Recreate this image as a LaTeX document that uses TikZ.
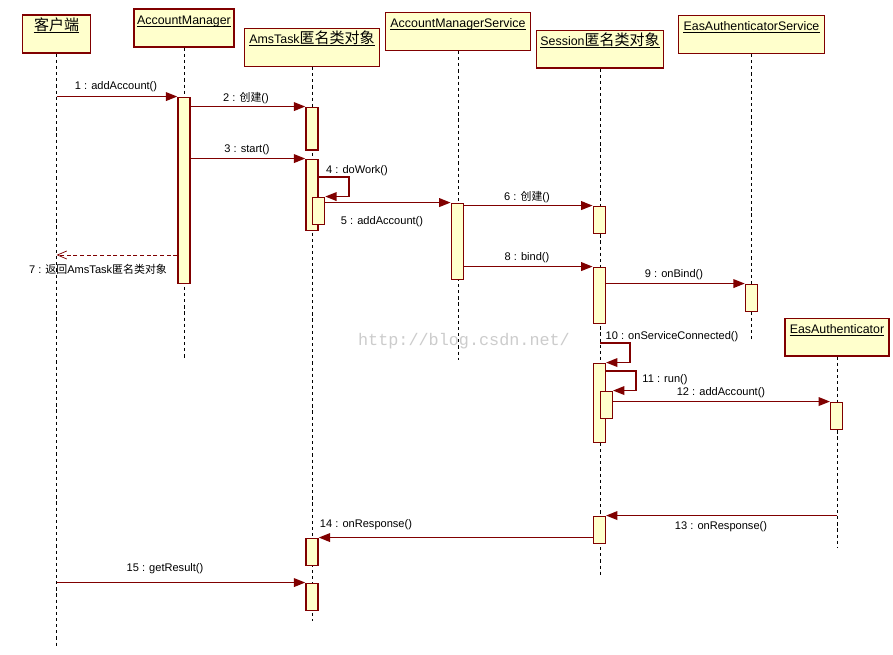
\documentclass[tikz,border=0pt]{standalone}
\usepackage{fontspec}
\setmainfont{Liberation Sans}
\newfontfamily\cjkfont{Noto Sans CJK SC}
\newfontfamily\wmfont{Liberation Mono}
\usetikzlibrary{arrows.meta}
\definecolor{umlred}{RGB}{128,0,0}
\definecolor{umlfill}{RGB}{255,255,204}
\newcommand\cjkT{\cjkfont\fontsize{11.25}{13}\selectfont}
\newcommand\cjkL{\cjkfont\fontsize{8.2}{10}\selectfont}
\newcommand\objbox[5]{\node[obj, minimum width={#5*0.75pt}, minimum height={(#4-#3)*0.75pt}] (#1) at (#2,{(#3+#4)/2}) {};}
\newcommand\actbar[4]{\node[act, minimum height={(#4-#3)*0.75pt}] (#1) at (#2,{(#3+#4)/2}) {};}
\newcommand\objtitle[3]{\node[ttl, anchor=base] (#1) at ([yshift=-12pt]#2.north) {#3};
  \draw[uline] ([yshift=-1.4pt]#1.base west) -- ([yshift=-1.4pt]#1.base east);}
\begin{document}
\begin{tikzpicture}[x=0.75pt,y=-0.75pt,
  obj/.style={draw=umlred, fill=umlfill, line width=1.1pt, inner sep=0pt},
  act/.style={draw=umlred, fill=umlfill, line width=1.1pt, inner sep=0pt, minimum width=9pt},
  ttl/.style={font=\fontsize{9.3}{11}\selectfont, inner sep=0pt},
  uline/.style={black, line width=0.6pt},
  lbl/.style={font=\fontsize{8.3}{10}\selectfont, inner sep=0pt},
  life/.style={black, dash pattern=on 2.4pt off 2.2pt, line width=0.6pt},
  msg/.style={umlred, line width=1.0pt, -{Triangle[length=8.5pt,width=6.5pt]}},
  ret/.style={umlred, line width=0.55pt, dash pattern=on 3pt off 2pt, -{Straight Barb[length=7pt,width=6pt]}}]
\useasboundingbox (0,0) rectangle (893,655);
\fill[white] (0,0) rectangle (893,655);

% watermark
\node[font=\wmfont\fontsize{12.6}{14}\selectfont, text=black!20, inner sep=0pt] (wm) at (464,341) {http://blog.csdn.net/};

% object boxes
\objbox{o1}{56.5}{15}{53}{68}
\objbox{o2}{184}{9}{47}{100}
\objbox{o3}{312}{28.5}{66.3}{135}
\objbox{o4}{458}{12.3}{50.3}{145}
\objbox{o5}{600}{30.7}{68}{127}
\objbox{o6}{751.5}{15.7}{53.3}{146}
\objbox{o7}{837}{318.3}{356}{104}

\objtitle{t1}{o1}{\cjkT 客户端}
\objtitle{t2}{o2}{AccountManager}
\objtitle{t3}{o3}{AmsTask{\cjkT 匿名类对象}}
\objtitle{t4}{o4}{AccountManagerService}
\objtitle{t5}{o5}{Session{\cjkT 匿名类对象}}
\objtitle{t6}{o6}{EasAuthenticatorService}
\objtitle{t7}{o7}{EasAuthenticator}

% lifeline ends
\coordinate (e1) at (56.5,646);
\coordinate (e2) at (184,358);
\coordinate (e3) at (312,621);
\coordinate (e4) at (458,360);
\coordinate (e5) at (600,577);
\coordinate (e6) at (751.5,340);
\coordinate (e7) at (837,547);
\foreach \i in {1,...,7}{\draw[life] (o\i.south) -- (o\i.south |- e\i);}

% activation bars
\actbar{b1}{184}{97.3}{283.3}
\actbar{b2}{312}{107.3}{150}
\actbar{b3}{312}{159.3}{230.3}
\actbar{b4}{318.5}{197.3}{224.3}
\actbar{b5}{457.3}{203.3}{279.3}
\actbar{b6}{599.3}{206.3}{233.3}
\actbar{b7}{599.3}{267.3}{323.3}
\actbar{b8}{751.5}{284.3}{311.3}
\actbar{b9}{599.3}{363.3}{442.3}
\actbar{b10}{606.3}{391.3}{418.3}
\actbar{b11}{836.7}{402.3}{429.3}
\actbar{b12}{599.3}{516.3}{543.3}
\actbar{b13}{312}{538.3}{565.3}
\actbar{b14}{312}{583.3}{610.3}

% messages
\draw[msg] (o1.south |- b1.north) -- (b1.north west);
\node[lbl] (l1) at (116,87) {1 : addAccount()};
\draw[msg] (b1.east |- b2.north) -- (b2.north west);
\node[lbl] (l2) at (246,98) {2 : {\cjkL 创建}()};
\draw[msg] (b1.east |- b3.north) -- (b3.north west);
\node[lbl] (l3) at (247,150) {3 : start()};
\draw[msg] (b3.east |- 0,177) -- (349,177) |- (b4.north east);
\node[lbl] (l4) at (357,171) {4 : doWork()};
\draw[msg] (b4.east |- b5.north) -- (b5.north west);
\node[lbl] (l5) at (382,222) {5 : addAccount()};
\draw[msg] (b5.east |- b6.north) -- (b6.north west);
\node[lbl] (l6) at (527,197) {6 : {\cjkL 创建}()};
\draw[ret] (b1.west |- 0,255) -- (o1.south |- 0,255);
\node[lbl] (l7) at (98,269) {7 : {\cjkL 返回}AmsTask{\cjkL 匿名类对象}};
\draw[msg] (b5.east |- b7.north) -- (b7.north west);
\node[lbl] (l8) at (527,258) {8 : bind()};
\draw[msg] (b7.east |- b8.north) -- (b8.north west);
\node[lbl] (l9) at (674,275) {9 : onBind()};
\draw[msg] (o5.south |- 0,343) -- (630,343) |- (b9.north east);
\node[lbl] (l10) at (672,337) {10 : onServiceConnected()};
\draw[msg] (b9.east |- 0,371) -- (636,371) |- (b10.north east);
\node[lbl] (l11) at (665,380) {11 : run()};
\draw[msg] (b10.east |- b11.north) -- (b11.north west);
\node[lbl] (l12) at (721,393) {12 : addAccount()};
\draw[msg] (o7.south |- b12.north) -- (b12.north east);
\node[lbl] (l13) at (721,527) {13 : onResponse()};
\draw[msg] (b12.west |- b13.north) -- (b13.north east);
\node[lbl] (l14) at (366,525) {14 : onResponse()};
\draw[msg] (o1.south |- b14.north) -- (b14.north west);
\node[lbl] (l15) at (165,569) {15 : getResult()};
\end{tikzpicture}
\end{document}
